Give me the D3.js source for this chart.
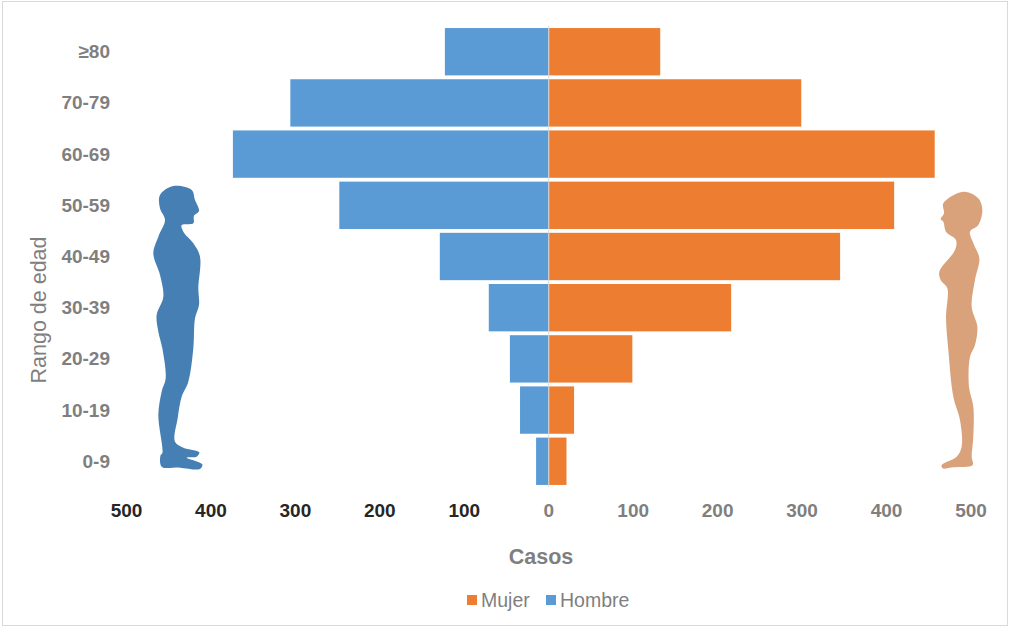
<!DOCTYPE html>
<html><head><meta charset="utf-8">
<script src="https://cdnjs.cloudflare.com/ajax/libs/d3/7.8.5/d3.min.js"></script>
<style>html,body{margin:0;padding:0;background:#fff}svg{display:block}text{font-family:"Liberation Sans",Arial,sans-serif}</style>
</head><body><svg id="c" width="1011" height="627"></svg>
<script>
const categories=["≥80","70-79","60-69","50-59","40-49","30-39","20-29","10-19","0-9"];
const hombre=[123,306,374,248,129,71,46,34,15];
const mujer=[132,299,457,409,345,216,99,30,21];
const ticksLeft=[500,400,300,200,100];
const ticksRight=[0,100,200,300,400,500];
const legendItems=["Mujer","Hombre"];
const maleOutline=[[130,33],[185,45],[195,75],[207,108],[192,122],[190,145],[155,150],[160,170],[190,205],[210,245],[205,340],[207,390],[195,430],[190,520],[175,620],[155,665],[143,730],[135,800],[160,818],[208,832],[200,845],[170,848],[217,868],[210,882],[150,878],[95,875],[92,840],[97,835],[85,720],[95,650],[107,610],[97,520],[85,470],[80,420],[100,365],[90,300],[70,235],[85,185],[105,135],[90,100],[90,60]];
const femaleOutline=[[130,35],[175,55],[187,90],[175,135],[150,155],[160,190],[178,235],[165,300],[155,380],[172,440],[165,495],[150,530],[147,620],[160,680],[160,770],[155,830],[158,855],[100,862],[68,865],[65,855],[110,830],[125,800],[120,720],[100,650],[85,510],[78,410],[82,325],[62,300],[58,275],[105,210],[108,180],[78,155],[70,125],[62,118],[72,100],[70,70]];

const svg=d3.select("#c");
svg.append("rect").attr("x",2.5).attr("y",1.5).attr("width",1005).attr("height",624).attr("fill","#fff").attr("stroke","#d9d9d9");

const x=d3.scaleLinear().domain([-500,500]).range([126.5,971]);
const y=d3.scaleBand().domain(categories).range([26,487]).paddingInner(0.075).paddingOuter(0.04);
const orange="#ed7d31",blue="#5b9bd5",grey="#7f7f7f";

svg.append("g").selectAll("rect").data(categories).join("rect")
 .attr("x",(d,i)=>x(-hombre[i])).attr("width",(d,i)=>x(0)-x(-hombre[i]))
 .attr("y",d=>y(d)).attr("height",y.bandwidth()).attr("fill",blue);
svg.append("g").selectAll("rect").data(categories).join("rect")
 .attr("x",x(0)).attr("width",(d,i)=>x(mujer[i])-x(0))
 .attr("y",d=>y(d)).attr("height",y.bandwidth()).attr("fill",orange);
svg.append("line").attr("x1",x(0)).attr("x2",x(0)).attr("y1",26).attr("y2",487).attr("stroke","#d9d9d9");

svg.append("g").selectAll("text").data(categories).join("text")
 .attr("x",110).attr("y",d=>y(d)+y.bandwidth()/2+6.5).attr("text-anchor","end")
 .attr("font-size",19).attr("font-weight","bold").attr("fill",grey).text(d=>d);

svg.append("g").selectAll("text").data(ticksLeft).join("text")
 .attr("x",d=>x(-d)).attr("y",517).attr("text-anchor","middle")
 .attr("font-size",19).attr("font-weight","bold").attr("fill","#262626").text(d=>d);
svg.append("g").selectAll("text").data(ticksRight).join("text")
 .attr("x",d=>x(d)).attr("y",517).attr("text-anchor","middle")
 .attr("font-size",19).attr("font-weight","bold").attr("fill",grey).text(d=>d);

svg.append("text").attr("x",541).attr("y",563.5).attr("text-anchor","middle")
 .attr("font-size",21.5).attr("font-weight","bold").attr("fill",grey).text("Casos");
svg.append("text").attr("transform","translate(46,310) rotate(-90)").attr("text-anchor","middle")
 .attr("font-size",21.5).attr("fill",grey).text("Rango de edad");

const lg=svg.append("g");
[[467,481,orange],[546,560,blue]].forEach((p,i)=>{
 lg.append("rect").attr("x",p[0]).attr("y",595).attr("width",10).attr("height",10).attr("fill",p[2]);
 lg.append("text").attr("x",p[1]).attr("y",607).attr("font-size",19.5).attr("fill",grey).text(legendItems[i]);
});

const outline=d3.line().curve(d3.curveCatmullRomClosed.alpha(0.5));
svg.append("path").attr("transform","translate(130,175) scale(0.3333)").attr("d",outline(maleOutline)).attr("fill","#457fb3");
svg.append("path").attr("transform","translate(920,180) scale(0.3333)").attr("d",outline(femaleOutline)).attr("fill","#d9a27b");
</script></body></html>
